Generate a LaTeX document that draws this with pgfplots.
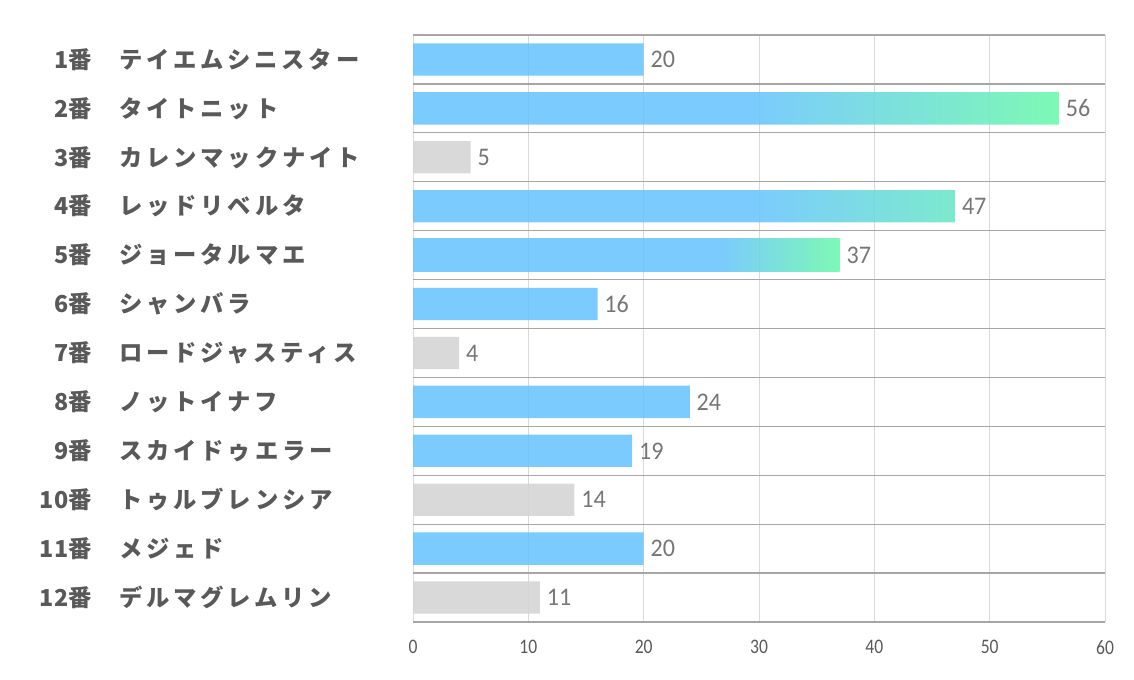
\documentclass[border=0pt]{standalone}
\usepackage{pgfplots}
\pgfplotsset{compat=1.18}
\usepackage{fontspec}
\setmainfont{Carlito}
\newfontfamily\jp{Noto Sans CJK JP}[LetterSpace=16]
\newfontfamily\jpnum{Noto Sans CJK JP}
\newfontfamily\valfont{Carlito}[FakeStretch=0.95]
\newfontfamily\tickfont{Carlito}[FakeStretch=0.85]

\definecolor{barblue}{HTML}{6DC5FE}
\definecolor{bargreen}{HTML}{6FF8AD}
\definecolor{bargray}{HTML}{D5D5D5}
\definecolor{sepline}{HTML}{A6A6A6}
\definecolor{gridline}{HTML}{D9D9D9}
\definecolor{labeltext}{HTML}{595959}
\definecolor{valtext}{HTML}{767676}

% blue for the first part of the bar, then fading to green
\pgfdeclarehorizontalshading{fadeA}{100bp}{color(0bp)=(barblue); color(51bp)=(barblue); color(75bp)=(bargreen); color(100bp)=(bargreen)}
\pgfdeclarehorizontalshading{fadeB}{100bp}{color(0bp)=(barblue); color(61bp)=(barblue); color(75bp)=(bargreen); color(100bp)=(bargreen)}

\newcommand\lbl[2]{\makebox[45pt][r]{{\jpnum #1番}}\hspace{21pt}\makebox[210pt][l]{#2}}

\begin{document}
\begin{tikzpicture}[x=1pt,y=1pt]
\useasboundingbox (0,0) rectangle (850.5,510);
\begin{axis}[
    at={(309.75pt,43.5pt)}, anchor=south west,
    scale only axis,
    width=519pt, height=440.25pt,
    xmin=0, xmax=60,
    ymin=0.5, ymax=12.5,
    y dir=reverse,
    xtick={0,10,...,60},
    ytick={1,...,12},
    minor ytick={0.5,1.5,...,12.5},
    major tick length=0pt, minor tick length=0pt,
    xmajorgrids, yminorgrids, ymajorgrids=false,
    major grid style={gridline, line width=0.75pt},
    minor grid style={sepline, line width=0.9pt},
    axis line style={draw=none},
    /pgf/number format/assume math mode=true,
    xticklabel style={font=\tickfont\fontsize{15.5}{16}\selectfont, text=labeltext, anchor=north, inner sep=0pt, yshift=-13.5pt},
    yticklabel style={font=\jp\bfseries\fontsize{17.5}{20}\selectfont, text=labeltext, anchor=east, inner sep=0pt, xshift=-9.75pt},
    yticklabels={
        {\lbl{1}{テイエムシニスター}},
        {\lbl{2}{タイトニット}},
        {\lbl{3}{カレンマックナイト}},
        {\lbl{4}{レッドリベルタ}},
        {\lbl{5}{ジョータルマエ}},
        {\lbl{6}{シャンバラ}},
        {\lbl{7}{ロードジャスティス}},
        {\lbl{8}{ノットイナフ}},
        {\lbl{9}{スカイドゥエラー}},
        {\lbl{10}{トゥルブレンシア}},
        {\lbl{11}{メジェド}},
        {\lbl{12}{デルマグレムリン}}
    },
    bar width=0.66,
    point meta=x,
    nodes near coords,
    nodes near coords style={font=\valfont\fontsize{19}{20}\selectfont, text=valtext, anchor=west, inner sep=0pt, xshift=5pt},
    clip=false,
]
% plain blue bars
\addplot[xbar, bar shift=0pt, draw=none, fill=barblue, fill opacity=0.9, text opacity=1] coordinates {
    (20,1) (16,6) (24,8) (19,9) (20,11)
};
% grey bars
\addplot[xbar, bar shift=0pt, draw=none, fill=bargray, fill opacity=0.9, text opacity=1] coordinates {
    (5,3) (4,7) (14,10) (11,12)
};
% gradient bars
\addplot[xbar, bar shift=0pt, draw=none, shade, shading=fadeA, fill opacity=0.9, text opacity=1] coordinates {
    (56,2) (47,4)
};
\addplot[xbar, bar shift=0pt, draw=none, shade, shading=fadeB, fill opacity=0.9, text opacity=1] coordinates {
    (37,5)
};
\end{axis}
\end{tikzpicture}
\end{document}
